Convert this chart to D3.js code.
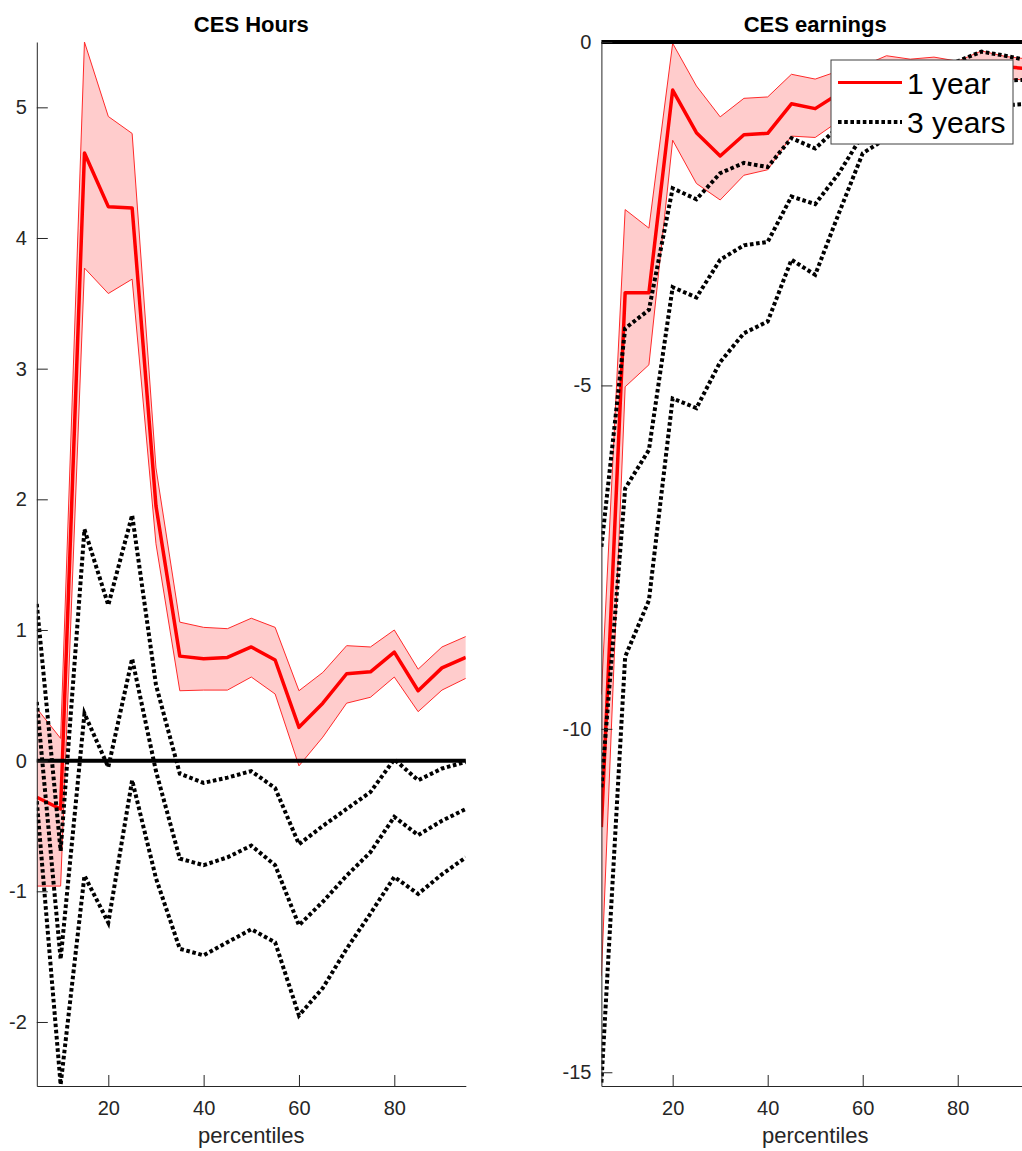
<!DOCTYPE html>
<html>
<head>
<meta charset="utf-8">
<script src="https://cdn.jsdelivr.net/npm/d3@7"></script>
<style>
  html, body { margin: 0; padding: 0; background: #fff; }
  svg { display: block; }
  text { font-family: "Liberation Sans", Arial, Helvetica, sans-serif; }
</style>
</head>
<body>
<div id="chart"></div>
<script>
// ---------------- data ----------------
const percentiles = [5,10,15,20,25,30,35,40,45,50,55,60,65,70,75,80,85,90,95];

const hoursTicksY = [-2,-1,0,1,2,3,4,5];
const earnTicksY = [-15,-10,-5,0];
const xTicks = [20,40,60,80];

// CES Hours, 1 year (mean and band)
const hoursMean1  = [-0.28,-0.37,4.65,4.24,4.23,1.95,0.80,0.78,0.79,0.87,0.77,0.255,0.44,0.665,0.68,0.83,0.535,0.71,0.79];
const hoursUpper1 = [0.40,0.17,5.50,4.93,4.80,2.24,1.06,1.02,1.01,1.09,1.02,0.535,0.675,0.88,0.87,1.00,0.70,0.87,0.95];
const hoursLower1 = [-0.96,-0.96,3.77,3.575,3.685,1.66,0.535,0.54,0.54,0.64,0.51,-0.04,0.18,0.44,0.485,0.64,0.375,0.54,0.63];
// CES Hours, 3 years (three dotted lines)
const hours3Upper = [1.20,-0.69,1.77,1.19,1.88,0.58,-0.10,-0.17,-0.13,-0.08,-0.21,-0.64,-0.50,-0.37,-0.24,0.01,-0.15,-0.06,-0.01];
const hours3Mid   = [0.45,-1.52,0.36,-0.05,0.78,-0.08,-0.75,-0.80,-0.74,-0.65,-0.80,-1.26,-1.08,-0.88,-0.70,-0.43,-0.57,-0.46,-0.37];
const hours3Lower = [-0.31,-2.48,-0.88,-1.24,-0.15,-0.90,-1.44,-1.49,-1.39,-1.29,-1.39,-1.95,-1.74,-1.44,-1.17,-0.89,-1.02,-0.87,-0.74];

// CES earnings, 1 year
const earnMean1  = [-11.43,-3.65,-3.65,-0.70,-1.32,-1.66,-1.35,-1.33,-0.90,-0.97,-0.75,-0.65,-0.50,-0.47,-0.43,-0.40,-0.30,-0.36,-0.39];
const earnUpper1 = [-9.50,-2.44,-2.71,-0.02,-0.64,-1.09,-0.82,-0.80,-0.47,-0.54,-0.42,-0.35,-0.20,-0.25,-0.22,-0.28,-0.13,-0.21,-0.25];
const earnLower1 = [-13.60,-5.02,-4.70,-1.43,-2.06,-2.30,-1.94,-1.86,-1.37,-1.39,-1.15,-0.95,-0.80,-0.70,-0.65,-0.58,-0.50,-0.53,-0.56];
// CES earnings, 3 years
const earn3Upper = [-7.35,-4.17,-3.90,-2.13,-2.29,-1.91,-1.76,-1.82,-1.40,-1.55,-1.23,-0.85,-0.60,-0.45,-0.35,-0.28,-0.14,-0.20,-0.27];
const earn3Mid   = [-10.85,-6.50,-5.94,-3.57,-3.72,-3.17,-2.96,-2.91,-2.25,-2.36,-1.91,-1.35,-1.15,-0.98,-0.85,-0.72,-0.60,-0.56,-0.55];
const earn3Lower = [-15.15,-8.95,-8.13,-5.19,-5.33,-4.66,-4.24,-4.07,-3.17,-3.39,-2.49,-1.62,-1.40,-1.25,-1.12,-1.03,-0.97,-0.92,-0.90];

const legendLabels = ["1 year", "3 years"];

// ---------------- drawing ----------------
const W = 1022, H = 1151;
const TXT = "#262626";
const DOT = "3.6,2.6";
const svg = d3.select("#chart").append("svg").attr("width", W).attr("height", H);

function panel(cfg) {
  const x = d3.scaleLinear().domain([5, 95]).range([cfg.x0, cfg.x1]);
  const y = d3.scaleLinear().domain(cfg.ydom).range([cfg.y1, cfg.y0]);
  const g = svg.append("g");
  const clipId = "clip" + cfg.id;
  svg.append("clipPath").attr("id", clipId).append("rect")
    .attr("x", cfg.x0).attr("y", cfg.y0 - 3).attr("width", cfg.x1 - cfg.x0).attr("height", cfg.y1 - cfg.y0 + 3);

  const plot = g.append("g").attr("clip-path", `url(#${clipId})`);

  // band
  const area = d3.area().x((d, i) => x(percentiles[i])).y0((d, i) => y(cfg.lower[i])).y1(d => y(d));
  plot.append("path").datum(cfg.upper).attr("d", area)
    .attr("fill", "#ffcccc").attr("stroke", "none");
  const line = arr => d3.line().x((d, i) => x(percentiles[i])).y(d => y(d))(arr);
  plot.append("path").attr("d", line(cfg.upper)).attr("fill", "none").attr("stroke", "#ff2a2a").attr("stroke-width", 1);
  plot.append("path").attr("d", line(cfg.lower)).attr("fill", "none").attr("stroke", "#ff2a2a").attr("stroke-width", 1);
  // mean
  plot.append("path").attr("d", line(cfg.mean)).attr("fill", "none")
    .attr("stroke", "#ff0000").attr("stroke-width", 3.5).attr("stroke-linejoin", "round");

  // zero line
  g.append("line").attr("x1", cfg.x0).attr("x2", cfg.x1).attr("y1", y(0)).attr("y2", y(0))
    .attr("stroke", "#000").attr("stroke-width", 4);

  // dotted 3-year lines
  [cfg.d1, cfg.d2, cfg.d3].forEach(arr => {
    plot.append("path").attr("d", line(arr)).attr("fill", "none")
      .attr("stroke", "#000").attr("stroke-width", 4)
      .attr("stroke-dasharray", DOT).attr("stroke-linecap", "butt");
  });

  // axes
  const ax = d3.axisLeft(y).tickValues(cfg.yticks).tickFormat(d => String(d))
    .tickSizeInner(-11).tickSizeOuter(0).tickPadding(10);
  const ga = g.append("g").attr("transform", `translate(${cfg.x0},0)`).call(ax);
  const bx = d3.axisBottom(x).tickValues(xTicks).tickFormat(d => String(d))
    .tickSizeInner(-11).tickSizeOuter(0).tickPadding(15);
  const gb = g.append("g").attr("transform", `translate(0,${cfg.y1})`).call(bx);
  [ga, gb].forEach(a => {
    a.select(".domain").attr("stroke", TXT).attr("stroke-width", 1);
    a.selectAll(".tick line").attr("stroke", TXT).attr("stroke-width", 1);
    a.selectAll(".tick text").attr("fill", TXT).style("font-size", "20px")
      .style("font-family", '"Liberation Sans", Arial, Helvetica, sans-serif');
  });

  // title
  g.append("text").attr("x", (cfg.x0 + cfg.x1) / 2).attr("y", 31.5)
    .attr("text-anchor", "middle").attr("fill", "#000")
    .style("font-size", "22px").style("font-weight", "bold").text(cfg.title);
  // xlabel
  g.append("text").attr("x", (cfg.x0 + cfg.x1) / 2).attr("y", 1143)
    .attr("text-anchor", "middle").attr("fill", TXT)
    .style("font-size", "22px").text("percentiles");
  return {x, y};
}

panel({id: "L", x0: 36.8, x1: 465.8, y0: 42, y1: 1086, ydom: [-2.49, 5.5], yticks: hoursTicksY,
  title: "CES Hours", mean: hoursMean1, upper: hoursUpper1, lower: hoursLower1,
  d1: hours3Upper, d2: hours3Mid, d3: hours3Lower});
panel({id: "R", x0: 601.4, x1: 1029, y0: 42, y1: 1086, ydom: [-15.2, 0], yticks: earnTicksY,
  title: "CES earnings", mean: earnMean1, upper: earnUpper1, lower: earnLower1,
  d1: earn3Upper, d2: earn3Mid, d3: earn3Lower});

// legend
const lg = svg.append("g");
lg.append("rect").attr("x", 831).attr("y", 60).attr("width", 182).attr("height", 84)
  .attr("fill", "#fff").attr("stroke", "#404040").attr("stroke-width", 1);
lg.append("line").attr("x1", 838).attr("x2", 902).attr("y1", 82.5).attr("y2", 82.5)
  .attr("stroke", "#ff0000").attr("stroke-width", 3);
lg.append("line").attr("x1", 838).attr("x2", 902).attr("y1", 122).attr("y2", 122)
  .attr("stroke", "#000").attr("stroke-width", 4).attr("stroke-dasharray", DOT);
legendLabels.forEach((t, i) => {
  lg.append("text").attr("x", 907).attr("y", i === 0 ? 94 : 132.5)
    .attr("fill", "#000").style("font-size", "30px").text(t);
});
</script>
</body>
</html>
